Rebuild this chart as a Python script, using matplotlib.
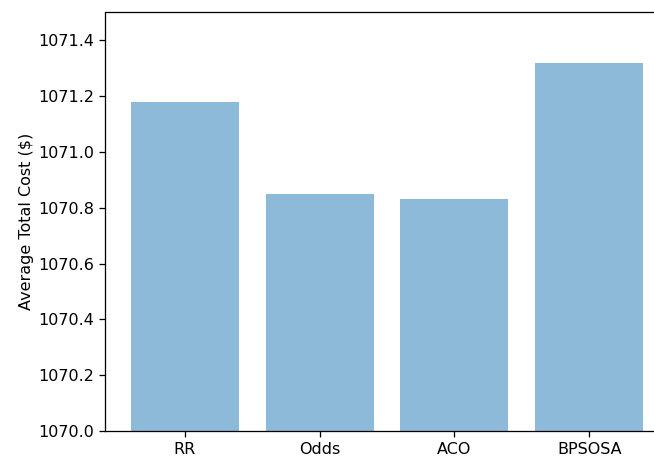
import matplotlib
matplotlib.use("Agg")
import matplotlib.pyplot as plt

methods = ["RR", "Odds", "ACO", "BPSOSA"]
avg_cost = [1071.18, 1070.85, 1070.83, 1071.32]

DPI = 115
fig = plt.figure(figsize=(654 / DPI, 457 / DPI), dpi=DPI)
# axes run past the right edge of the canvas
ax = fig.add_axes([105 / 654, 26 / 457, 564 / 654, 418.5 / 457])

x = range(len(methods))
ax.bar(x, [v - 1070.0 for v in avg_cost], bottom=1070.0, width=0.8,
       color="#1f77b4", alpha=0.5)
ax.set_xticks(list(x))
ax.set_xticklabels(methods)
ax.set_xlim(-0.59, 3.59)
ax.set_ylim(1070.0, 1071.5)
ax.set_yticks([1070.0, 1070.2, 1070.4, 1070.6, 1070.8, 1071.0, 1071.2, 1071.4])
ax.set_yticklabels(["%.1f" % t for t in ax.get_yticks()])
ax.set_ylabel("Average Total Cost ($)", labelpad=2.5)

fig.savefig("out.png", dpi=DPI)
